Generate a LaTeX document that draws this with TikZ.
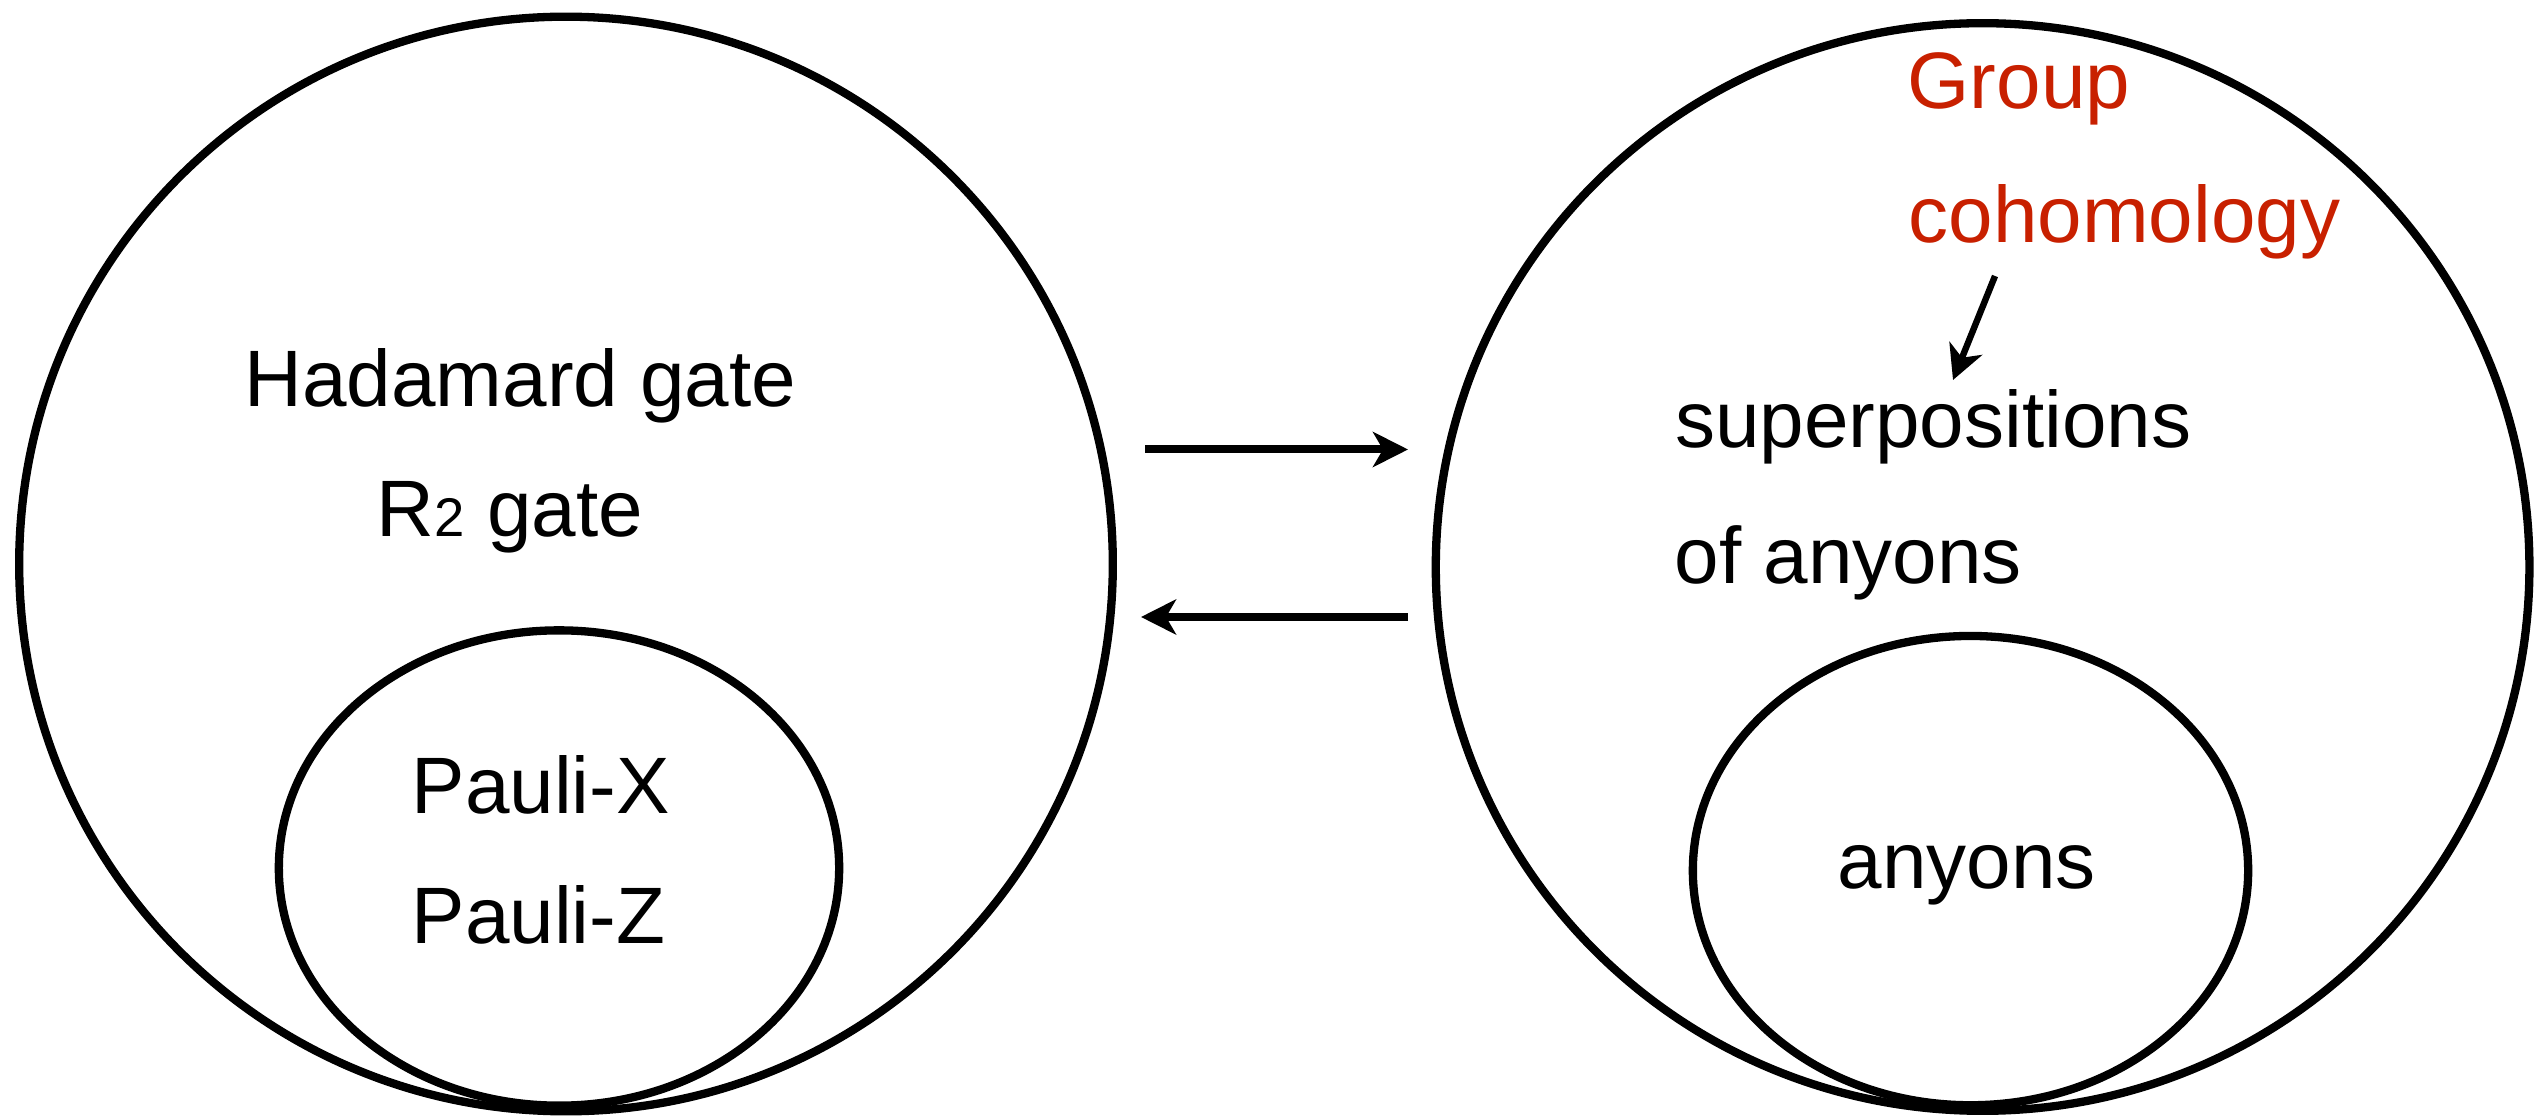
\documentclass[tikz,border=0pt]{standalone}
\usepackage{fontspec}
\setmainfont{Liberation Sans}
\usetikzlibrary{arrows.meta,shapes.geometric}
\definecolor{redtxt}{RGB}{200,32,0}
\tikzset{
  ring/.style={draw=black, ellipse, inner sep=0pt, line width=0.083cm},
  lbl/.style={anchor=base west, inner sep=0pt, font=\fontsize{22.76pt}{27pt}\selectfont},
  redlbl/.style={lbl, text=redtxt},
  conn/.style={line width=0.08cm, -{Stealth[length=0.35cm, width=0.35cm, inset=0.1cm]}},
  thinconn/.style={line width=0.064cm, -{Stealth[length=0.34cm, width=0.35cm, inset=0.1cm]}}
}
\begin{document}
\begin{tikzpicture}[x=0.01cm, y=-0.01cm]
\useasboundingbox (0,0) rectangle (2545,1119);
% circles
\node[ring, minimum width=10.93cm, minimum height=10.94cm] (L) at (566,564) {};
\node[ring, minimum width=5.60cm, minimum height=4.75cm] (Li) at (559,868) {};
\node[ring, minimum width=10.93cm, minimum height=10.87cm] (R) at (1982.6,567) {};
\node[ring, minimum width=5.55cm, minimum height=4.69cm] (Ri) at (1970.5,870.6) {};
% left texts
\node[lbl] (had) at (244,407) {Hadamard gate};
\node[lbl] (r2) at (376,537) {R{\fontsize{15.5pt}{18pt}\selectfont 2} gate};
\node[lbl] (px) at (411,814) {Pauli-X};
\node[lbl] (pz) at (411,943) {Pauli-Z};
% right texts
\node[redlbl] (grp) at (1907,108.5) {Group};
\node[redlbl] (coh) at (1908,243) {cohomology};
\node[lbl] (sup) at (1674.5,448) {superpositions};
\node[lbl] (ofa) at (1674,584) {of anyons};
\node[lbl] (any) at (1837,888.5) {anyons};
% connectors
\coordinate (t1) at (1145,449.5);
\coordinate (t2) at (1408,449.5);
\coordinate (b1) at (1408,617);
\coordinate (b2) at (1141,617);
\coordinate (c1) at (1995,276);
\coordinate (c2) at (1953,380);
\draw[conn] (t1) -- (t2);
\draw[conn] (b1) -- (b2);
\draw[thinconn] (c1) -- (c2);
\end{tikzpicture}
\end{document}
